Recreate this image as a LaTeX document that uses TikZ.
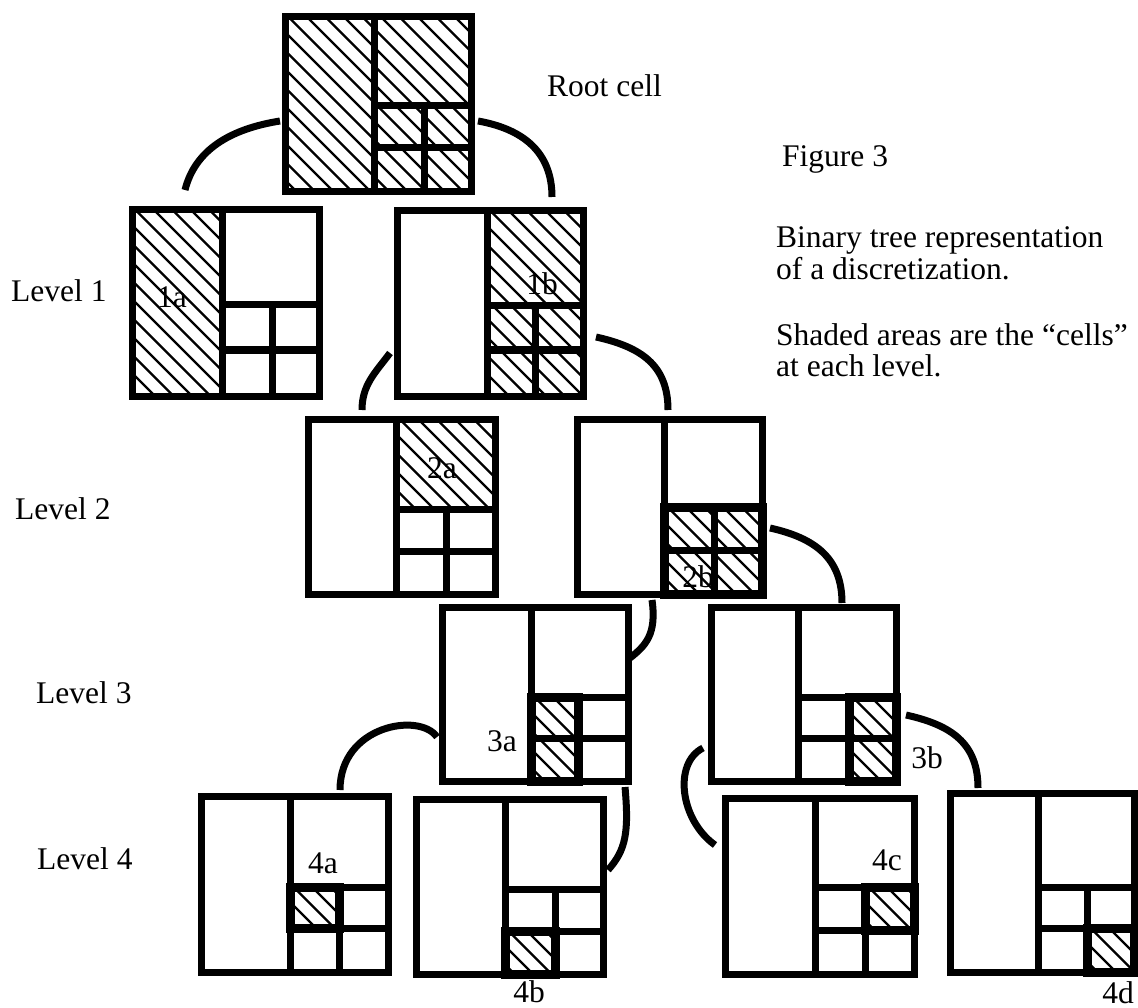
\documentclass[tikz,border=0pt]{standalone}
\usepackage{fontspec}
\setmainfont{Liberation Serif}
\tikzset{
  wall/.style={line width=7pt},
  bold/.style={line width=9pt},
  hatchline/.style={line width=2.2pt},
  link/.style={line width=7pt},
  lbl/.style={font=\fontsize{31.5}{33}\selectfont,inner sep=0pt}
}
\newcommand{\cellbox}[9]{%
  \draw[wall] (#2,#3) rectangle (#4,#5);
  \draw[wall] (#6,#3) to (#6,#5);
  \draw[wall] (#6,#7) to (#4,#7);
  \draw[wall] (#8,#7) to (#8,#5);
  \draw[wall] (#6,#9) to (#4,#9);
  \coordinate (#1) at ({(#2+#4)/2},{(#3+#5)/2});
}
\newcommand{\hatch}[4]{%
  \begin{scope}
    \clip (#1,#2) rectangle (#3,#4);
    \foreach \k in {-200,-181.5,...,200}
      \draw[hatchline] ({#1+\k},#2) to ++(220,220);
  \end{scope}
}
\begin{document}
\begin{tikzpicture}[x=1pt,y=-1pt]
  \useasboundingbox (0,0) rectangle (1138,1008);
  \fill[white] (0,0) rectangle (1138,1008);

  \hatch{285}{17}{471}{192}
  \hatch{132}{210}{222}{396}
  \hatch{487}{211}{583}{396}
  \hatch{396}{419}{495}{509}
  \hatch{664}{507}{762}{594}
  \hatch{531}{697}{578}{781}
  \hatch{849}{697}{896}{781}
  \hatch{290}{887}{339}{928}
  \hatch{505}{931}{555}{974}
  \hatch{865}{887}{914}{930}
  \hatch{1087}{928}{1134}{972}

  \node[lbl,anchor=base] (l1a) at (172,308) {1a};
  \node[lbl,anchor=base] (l1b) at (542,295) {1b};
  \node[lbl,anchor=base] (l2a) at (442,478) {2a};
  \node[lbl,anchor=base] (l2b) at (698,587) {2b};
  \node[lbl,anchor=base] (l3a) at (502,751) {3a};
  \node[lbl,anchor=base] (l3b) at (927,768) {3b};
  \node[lbl,anchor=base] (l4a) at (323,873) {4a};
  \node[lbl,anchor=base] (l4b) at (529,1002) {4b};
  \node[lbl,anchor=base] (l4c) at (887,870) {4c};
  \node[lbl,anchor=base] (l4d) at (1118,1003) {4d};

  \cellbox{root}{285}{17}{471}{192}{374}{106}{424}{148}
  \cellbox{a1}{132}{210}{319}{396}{222}{305}{272}{350}
  \cellbox{b1}{397}{211}{583}{396}{487}{306}{535}{350}
  \cellbox{a2}{308}{419}{495}{594}{396}{509}{446}{551}
  \cellbox{b2}{577}{419}{762}{594}{664}{507}{714}{550}
  \cellbox{a3}{442}{607}{628}{781}{531}{697}{578}{738}
  \cellbox{b3}{711}{607}{896}{781}{798}{697}{849}{738}
  \cellbox{a4}{201}{796}{388}{972}{290}{887}{339}{928}
  \cellbox{b4}{416}{799}{603}{974}{505}{889}{555}{931}
  \cellbox{c4}{725}{798}{914}{974}{815}{887}{865}{930}
  \cellbox{d4}{950}{793}{1134}{972}{1038}{887}{1087}{928}

  \draw[bold] (664,507) rectangle (762,594);
  \draw[bold] (531,697) rectangle (578,781);
  \draw[bold] (849,697) rectangle (896,781);
  \draw[bold] (290,887) rectangle (339,928);
  \draw[bold] (505,931) rectangle (555,974);
  \draw[bold] (865,887) rectangle (914,930);
  \draw[bold] (1087,928) rectangle (1134,972);

  \coordinate (root-w) at (280,121);
  \coordinate (root-e) at (478,121);
  \coordinate (a1-top) at (185,190);
  \coordinate (b1-top) at (552,197);
  \coordinate (b1-w) at (390,353);
  \coordinate (b1-e) at (596,337);
  \coordinate (a2-top) at (362,410);
  \coordinate (b2-top) at (668,410);
  \coordinate (b2-e) at (770,528);
  \coordinate (b2-bot) at (652,600);
  \coordinate (a3-e) at (630,658);
  \coordinate (b3-top) at (842,603);
  \coordinate (a3-w) at (437,737);
  \coordinate (a3-bot) at (625,787);
  \coordinate (b3-w) at (703,748);
  \coordinate (b3-e) at (906,715);
  \coordinate (a4-top) at (340,790);
  \coordinate (b4-e) at (608,870);
  \coordinate (c4-w) at (715,845);
  \coordinate (d4-top) at (978,788);

  \draw[link] (root-w) .. controls +(-50,8) and +(10,-40) .. (a1-top);
  \draw[link] (root-e) .. controls +(45,8) and +(0,-45) .. (b1-top);
  \draw[link] (b1-w) .. controls +(-15,20) and +(0,-25) .. (a2-top);
  \draw[link] (b1-e) .. controls +(45,10) and +(0,-45) .. (b2-top);
  \draw[link] (b2-e) .. controls +(45,10) and +(0,-45) .. (b3-top);
  \draw[link] (b2-bot) .. controls +(5,35) and +(15,-12) .. (a3-e);
  \draw[link] (a3-w) .. controls +(-17,-25) and +(0,-65) .. (a4-top);
  \draw[link] (a3-bot) .. controls +(4,45) and +(18,-20) .. (b4-e);
  \draw[link] (b3-w) .. controls +(-30,15) and +(-35,-25) .. (c4-w);
  \draw[link] (b3-e) .. controls +(45,10) and +(0,-45) .. (d4-top);

  \node[lbl,anchor=base west] (rootname) at (547,97) {Root cell};
  \node[lbl,anchor=base west] (fig) at (782,167) {Figure 3};
  \node[lbl,anchor=base west] (cap1) at (776,248) {Binary tree representation};
  \node[lbl,anchor=base west] (cap2) at (776,280) {of a discretization.};
  \node[lbl,anchor=base west] (cap3) at (776,345) {Shaded areas are the “cells”};
  \node[lbl,anchor=base west] (cap4) at (776,376) {at each level.};
  \node[lbl,anchor=base west] (lvl1) at (11,302) {Level 1};
  \node[lbl,anchor=base west] (lvl2) at (15,519) {Level 2};
  \node[lbl,anchor=base west] (lvl3) at (36,703) {Level 3};
  \node[lbl,anchor=base west] (lvl4) at (37,869) {Level 4};
\end{tikzpicture}
\end{document}
